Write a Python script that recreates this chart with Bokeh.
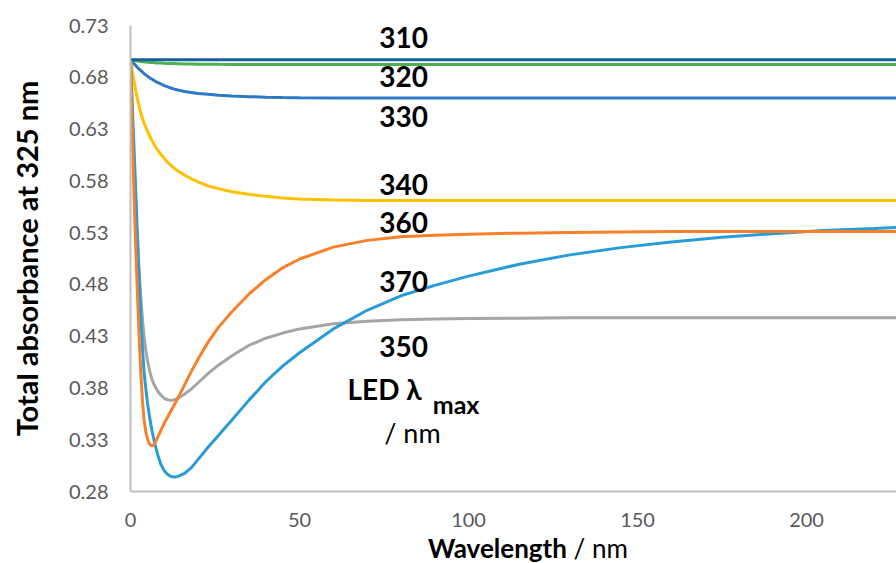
from bokeh.plotting import figure
from bokeh.models import ColumnDataSource, Range1d, FixedTicker, PrintfTickFormatter, Label, Div
from bokeh.layouts import column
from bokeh.embed import file_html
from bokeh.resources import INLINE

# ---- data ----
wavelength = [0, 0.5, 1, 1.5, 2, 2.5, 3, 3.5, 4, 4.5, 5, 5.5, 6, 6.5, 7, 8, 9, 10, 11, 12, 13, 14,
              16, 18, 20, 23, 26, 30, 35, 40, 45, 50, 60, 70, 80, 90, 100, 115, 130, 145, 160,
              175, 190, 205, 220, 227]

led_310 = [0.697] * 46

led_320 = [0.697, 0.6967, 0.6964, 0.6961, 0.6958, 0.6955, 0.6953, 0.6951, 0.6949, 0.6947, 0.6946,
           0.6944, 0.6943, 0.6942, 0.6941, 0.6939, 0.6937, 0.6935, 0.6934, 0.6933, 0.6932, 0.6931,
           0.6929, 0.6928, 0.6927, 0.6926, 0.6925, 0.6924, 0.6923, 0.6923, 0.6923, 0.6923, 0.6923,
           0.6923, 0.6923, 0.6923, 0.6923, 0.6923, 0.6923, 0.6923, 0.6923, 0.6923, 0.6923, 0.6923,
           0.6923, 0.6923]

led_330 = [0.697, 0.6951, 0.6933, 0.6915, 0.6897, 0.6881, 0.6866, 0.6851, 0.6836, 0.6823, 0.6811,
           0.6799, 0.6788, 0.6778, 0.6768, 0.6750, 0.6735, 0.6720, 0.6707, 0.6696, 0.6686, 0.6677,
           0.6663, 0.6652, 0.6644, 0.6635, 0.6627, 0.6620, 0.6613, 0.6608, 0.6605, 0.6603, 0.6601,
           0.6600, 0.6600, 0.6600, 0.6600, 0.6600, 0.6600, 0.6600, 0.6600, 0.6600, 0.6600, 0.6600,
           0.6600, 0.6600]

led_340 = [0.697, 0.686, 0.677, 0.668, 0.660, 0.653, 0.646, 0.641, 0.636, 0.632, 0.628,
           0.6245, 0.621, 0.618, 0.615, 0.610, 0.6055, 0.6015, 0.598, 0.595, 0.592, 0.5895,
           0.5855, 0.582, 0.579, 0.575, 0.5725, 0.5695, 0.567, 0.565, 0.5635, 0.5625, 0.5615,
           0.561, 0.561, 0.561, 0.561, 0.561, 0.561, 0.561, 0.561, 0.561, 0.561, 0.561,
           0.561, 0.561]

led_350 = [0.697, 0.640, 0.595, 0.558, 0.524, 0.496, 0.470, 0.448, 0.430, 0.417, 0.407,
           0.399, 0.392, 0.387, 0.383, 0.377, 0.373, 0.370, 0.3685, 0.368, 0.3685, 0.370,
           0.374, 0.379, 0.385, 0.394, 0.402, 0.411, 0.421, 0.428, 0.433, 0.437, 0.442,
           0.4445, 0.4458, 0.4465, 0.447, 0.4474, 0.4477, 0.4477, 0.4477, 0.4477, 0.4477, 0.4477,
           0.4477, 0.4477]

led_360 = [0.697, 0.630, 0.570, 0.520, 0.475, 0.433, 0.398, 0.370, 0.349, 0.338, 0.331,
           0.3265, 0.3245, 0.324, 0.3255, 0.332, 0.339, 0.346, 0.352, 0.358, 0.364, 0.370,
           0.383, 0.396, 0.408, 0.4245, 0.4385, 0.4535, 0.4705, 0.4845, 0.496, 0.5045, 0.516,
           0.5225, 0.526, 0.5275, 0.5285, 0.5295, 0.530, 0.5305, 0.531, 0.531, 0.531, 0.531,
           0.531, 0.531]

led_370 = [0.697, 0.655, 0.615, 0.575, 0.530, 0.490, 0.452, 0.421, 0.396, 0.380, 0.366,
           0.355, 0.345, 0.3365, 0.329, 0.316, 0.306, 0.300, 0.2965, 0.2945, 0.294, 0.2945,
           0.2975, 0.303, 0.311, 0.323, 0.334, 0.349, 0.368, 0.386, 0.401, 0.414, 0.437,
           0.455, 0.469, 0.479, 0.488, 0.4995, 0.5085, 0.5155, 0.521, 0.5255, 0.529, 0.532,
           0.534, 0.535]

series_names = ["310", "320", "330", "340", "350", "360", "370"]
series_values = [led_310, led_320, led_330, led_340, led_350, led_360, led_370]
series_colors = ["#155F9A", "#4CAF50", "#2A78C8", "#FFC000", "#A5A5A5", "#FA7F2A", "#289CD8"]
draw_order = ["320", "330", "340", "350", "370", "360", "310"]

label_x = 80.8
label_y = {"310": 0.7184, "320": 0.6807, "330": 0.6421, "340": 0.5764,
           "360": 0.5397, "370": 0.4828, "350": 0.4200}

y_ticks = [0.28, 0.33, 0.38, 0.43, 0.48, 0.53, 0.58, 0.63, 0.68, 0.73]
x_ticks = [0, 50, 100, 150, 200]

FONT = "Lato"

# ---- figure ----
p = figure(width=896, height=537, output_backend="svg", toolbar_location=None,
           x_range=Range1d(0, 226.6), y_range=Range1d(0.28, 0.73),
           min_border_left=130, min_border_right=0, min_border_top=25, min_border_bottom=46)
p.outline_line_color = None
p.xgrid.grid_line_color = None
p.ygrid.grid_line_color = None
p.background_fill_color = "white"
p.border_fill_color = "white"

src = ColumnDataSource(dict(x=wavelength, **{"s" + n: v for n, v in zip(series_names, series_values)}))
color_of = dict(zip(series_names, series_colors))
for n in draw_order:
    p.line("x", "s" + n, source=src, line_color=color_of[n], line_width=3)

for ax in (p.xaxis[0], p.yaxis[0]):
    ax.axis_line_color = "#BFBFBF"
    ax.axis_line_width = 2
    ax.major_tick_line_color = None
    ax.minor_tick_line_color = None
    ax.major_tick_out = 0
    ax.major_tick_in = 0
    ax.major_label_text_font = FONT
    ax.major_label_text_font_size = "20px"
    ax.major_label_text_color = "#595959"

p.yaxis.ticker = FixedTicker(ticks=y_ticks)
p.yaxis.formatter = PrintfTickFormatter(format="%.2f")
p.yaxis.major_label_standoff = 22
p.yaxis.axis_label = "Total absorbance at 325 nm"
p.yaxis.axis_label_text_font = FONT
p.yaxis.axis_label_text_font_style = "bold"
p.yaxis.axis_label_text_font_size = "29px"
p.yaxis.axis_label_text_color = "black"
p.yaxis.axis_label_standoff = 22

p.xaxis.ticker = FixedTicker(ticks=x_ticks)
p.xaxis.major_label_standoff = 21

# curve labels
for n in series_names:
    p.add_layout(Label(x=label_x, y=label_y[n], text=n, text_font=FONT, text_font_style="bold",
                       text_font_size="28px", text_color="black", text_align="center",
                       text_baseline="alphabetic"))

# legend-like title
p.add_layout(Label(x=64.2, y=0.3785, text="LED λ", text_font=FONT, text_font_style="bold",
                   text_font_size="28px", text_color="black", text_align="left", text_baseline="alphabetic"))
p.add_layout(Label(x=89.4, y=0.3642, text="max", text_font=FONT, text_font_style="bold",
                   text_font_size="25px", text_color="black", text_align="left", text_baseline="alphabetic"))
p.add_layout(Label(x=83.4, y=0.3368, text="/ nm", text_font=FONT,
                   text_font_size="27px", text_color="black", text_align="center", text_baseline="alphabetic"))

# x-axis title (bold + regular parts)
xtitle = Div(text='<div style="font-family:Lato;font-size:26px;line-height:22px;color:black;'
                  'padding-left:428px;white-space:nowrap;margin:0;">'
                  '<b>Wavelength</b> / nm</div>',
             width=896, height=26, margin=0)

layout = column(p, xtitle, spacing=0)
open("out.html", "w").write(file_html(layout, INLINE))
